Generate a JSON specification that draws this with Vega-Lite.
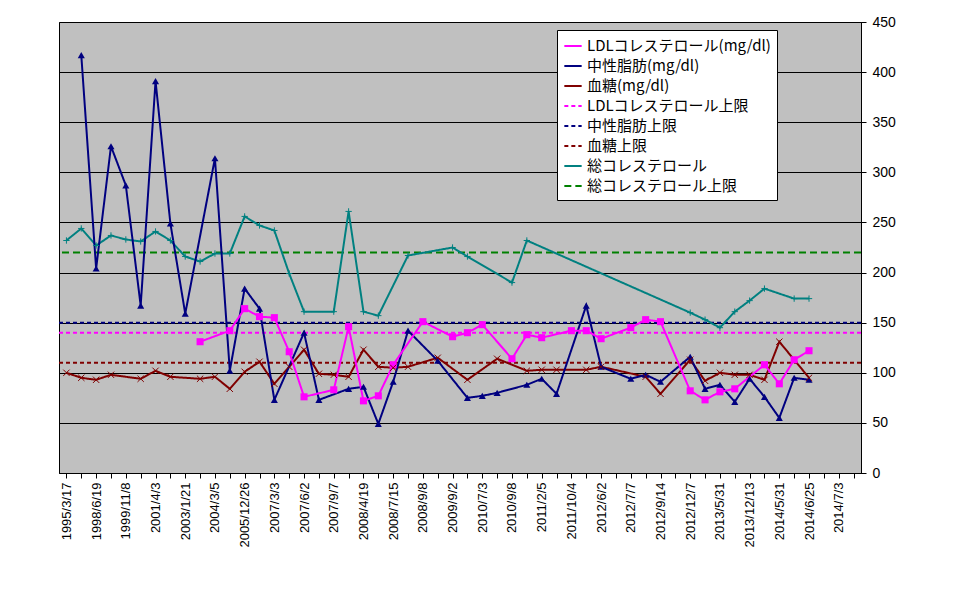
{
"$schema":"https://vega.github.io/schema/vega-lite/v6.json",
"width":802,"height":451,
"autosize":{"type":"none"},
"padding":{"left":59,"top":22,"right":101,"bottom":123},
"background":"white",
"config":{"view":{"fill":"#C0C0C0","stroke":"black","strokeWidth":1},"font":"Liberation Sans"},
"data":{"values":[
{"i":0,"血糖(mg/dl)":100,"総コレステロール":232},
{"i":1,"中性脂肪(mg/dl)":417,"血糖(mg/dl)":95,"総コレステロール":244},
{"i":2,"中性脂肪(mg/dl)":204,"血糖(mg/dl)":93,"総コレステロール":227},
{"i":3,"中性脂肪(mg/dl)":326,"血糖(mg/dl)":98,"総コレステロール":237},
{"i":4,"中性脂肪(mg/dl)":287,"総コレステロール":233},
{"i":5,"中性脂肪(mg/dl)":167,"血糖(mg/dl)":94,"総コレステロール":231},
{"i":6,"中性脂肪(mg/dl)":391,"血糖(mg/dl)":102,"総コレステロール":241},
{"i":7,"中性脂肪(mg/dl)":249,"血糖(mg/dl)":96,"総コレステロール":232},
{"i":8,"中性脂肪(mg/dl)":159,"総コレステロール":216},
{"i":9,"LDLコレステロール(mg/dl)":131,"血糖(mg/dl)":94,"総コレステロール":211},
{"i":10,"中性脂肪(mg/dl)":314,"血糖(mg/dl)":96,"総コレステロール":219},
{"i":11,"LDLコレステロール(mg/dl)":142,"中性脂肪(mg/dl)":102,"血糖(mg/dl)":84,"総コレステロール":219},
{"i":12,"LDLコレステロール(mg/dl)":164,"中性脂肪(mg/dl)":184,"血糖(mg/dl)":101,"総コレステロール":256},
{"i":13,"LDLコレステロール(mg/dl)":156,"中性脂肪(mg/dl)":164,"血糖(mg/dl)":111,"総コレステロール":247},
{"i":14,"LDLコレステロール(mg/dl)":155,"中性脂肪(mg/dl)":73,"血糖(mg/dl)":89,"総コレステロール":242},
{"i":15,"LDLコレステロール(mg/dl)":121,"血糖(mg/dl)":106,"総コレステロール":199},
{"i":16,"LDLコレステロール(mg/dl)":76,"中性脂肪(mg/dl)":140,"血糖(mg/dl)":123,"総コレステロール":161},
{"i":17,"中性脂肪(mg/dl)":73,"血糖(mg/dl)":99},
{"i":18,"LDLコレステロール(mg/dl)":83,"血糖(mg/dl)":98,"総コレステロール":161},
{"i":19,"LDLコレステロール(mg/dl)":146,"中性脂肪(mg/dl)":84,"血糖(mg/dl)":96,"総コレステロール":261},
{"i":20,"LDLコレステロール(mg/dl)":72,"中性脂肪(mg/dl)":86,"血糖(mg/dl)":123,"総コレステロール":161},
{"i":21,"LDLコレステロール(mg/dl)":77,"中性脂肪(mg/dl)":49,"血糖(mg/dl)":106,"総コレステロール":157},
{"i":22,"LDLコレステロール(mg/dl)":108,"中性脂肪(mg/dl)":91,"血糖(mg/dl)":105},
{"i":23,"中性脂肪(mg/dl)":142,"血糖(mg/dl)":106,"総コレステロール":217},
{"i":24,"LDLコレステロール(mg/dl)":151},
{"i":25,"中性脂肪(mg/dl)":112,"血糖(mg/dl)":115},
{"i":26,"LDLコレステロール(mg/dl)":136,"総コレステロール":225},
{"i":27,"LDLコレステロール(mg/dl)":140,"中性脂肪(mg/dl)":75,"血糖(mg/dl)":93,"総コレステロール":216},
{"i":28,"LDLコレステロール(mg/dl)":148,"中性脂肪(mg/dl)":77},
{"i":29,"中性脂肪(mg/dl)":80,"血糖(mg/dl)":114},
{"i":30,"LDLコレステロール(mg/dl)":114,"総コレステロール":190},
{"i":31,"LDLコレステロール(mg/dl)":138,"中性脂肪(mg/dl)":88,"血糖(mg/dl)":102,"総コレステロール":232},
{"i":32,"LDLコレステロール(mg/dl)":135,"中性脂肪(mg/dl)":94,"血糖(mg/dl)":103},
{"i":33,"中性脂肪(mg/dl)":79,"血糖(mg/dl)":103},
{"i":34,"LDLコレステロール(mg/dl)":142},
{"i":35,"LDLコレステロール(mg/dl)":142,"中性脂肪(mg/dl)":167,"血糖(mg/dl)":103},
{"i":36,"LDLコレステロール(mg/dl)":134,"中性脂肪(mg/dl)":106,"血糖(mg/dl)":106},
{"i":38,"LDLコレステロール(mg/dl)":145,"中性脂肪(mg/dl)":94},
{"i":39,"LDLコレステロール(mg/dl)":153,"中性脂肪(mg/dl)":98,"血糖(mg/dl)":96},
{"i":40,"LDLコレステロール(mg/dl)":151,"中性脂肪(mg/dl)":91,"血糖(mg/dl)":79},
{"i":42,"LDLコレステロール(mg/dl)":82,"中性脂肪(mg/dl)":116,"血糖(mg/dl)":113,"総コレステロール":160},
{"i":43,"LDLコレステロール(mg/dl)":73,"中性脂肪(mg/dl)":84,"血糖(mg/dl)":92,"総コレステロール":153},
{"i":44,"LDLコレステロール(mg/dl)":81,"中性脂肪(mg/dl)":88,"血糖(mg/dl)":100,"総コレステロール":145},
{"i":45,"LDLコレステロール(mg/dl)":84,"中性脂肪(mg/dl)":71,"血糖(mg/dl)":98,"総コレステロール":161},
{"i":46,"中性脂肪(mg/dl)":94,"血糖(mg/dl)":98,"総コレステロール":172},
{"i":47,"LDLコレステロール(mg/dl)":108,"中性脂肪(mg/dl)":76,"血糖(mg/dl)":93,"総コレステロール":184},
{"i":48,"LDLコレステロール(mg/dl)":89,"中性脂肪(mg/dl)":55,"血糖(mg/dl)":131},
{"i":49,"LDLコレステロール(mg/dl)":113,"中性脂肪(mg/dl)":95,"総コレステロール":174},
{"i":50,"LDLコレステロール(mg/dl)":122,"中性脂肪(mg/dl)":93,"血糖(mg/dl)":95,"総コレステロール":174}
]},
"transform":[
{"fold":["LDLコレステロール(mg/dl)","中性脂肪(mg/dl)","血糖(mg/dl)","総コレステロール"],"as":["s","v"]},
{"filter":"isValid(datum.v)"}
],
"encoding":{
"x":{"field":"i","type":"ordinal","scale":{"type":"point","padding":0.5,"domain":[0,1,2,3,4,5,6,7,8,9,10,11,12,13,14,15,16,17,18,19,20,21,22,23,24,25,26,27,28,29,30,31,32,33,34,35,36,37,38,39,40,41,42,43,44,45,46,47,48,49,50,51,52,53]},
"axis":{"title":null,"grid":false,"domainColor":"black","tickColor":"black","labelColor":"black","labelFontSize":13,"labelAngle":-90,"labelAlign":"right","labelBaseline":"middle","labelPadding":4,"labelOverlap":false,
"labelExpr":"datum.value % 2 == 0 ? ['1995/3/17','1998/6/19','1999/11/8','2001/4/3','2003/1/21','2004/3/5','2005/12/26','2007/3/3','2007/6/2','2007/9/7','2008/4/19','2008/7/15','2008/9/8','2009/9/2','2010/7/3','2010/9/8','2011/2/5','2011/10/4','2012/6/2','2012/7/7','2012/9/14','2012/12/7','2013/5/31','2013/12/13','2014/5/31','2014/6/25','2014/7/3'][datum.value/2] : ''"}},
"y":{"field":"v","type":"quantitative","scale":{"domain":[0,450]},
"axis":{"orient":"right","title":null,"values":[0,50,100,150,200,250,300,350,400,450],"gridColor":"black","gridOpacity":1,"domainColor":"black","tickColor":"black","labelColor":"black","labelFontSize":14,"labelPadding":6}},
"color":{"field":"s","type":"nominal","scale":{"domain":["LDLコレステロール(mg/dl)","中性脂肪(mg/dl)","血糖(mg/dl)","LDLコレステロール上限","中性脂肪上限","血糖上限","総コレステロール","総コレステロール上限"],"range":["#FF00FF","#000080","#800000","#FF00FF","#000080","#800000","#008080","#008000"]},
"legend":{"title":null,"orient":"none","legendX":498,"legendY":8,"symbolType":"stroke","symbolSize":300,"symbolStrokeWidth":2,"labelFontSize":15,"labelFont":"Noto Sans CJK JP","labelColor":"black","fillColor":"white","strokeColor":"black","padding":6,"rowPadding":2,"labelLimit":300}},
"strokeDash":{"field":"s","type":"nominal","scale":{"domain":["LDLコレステロール(mg/dl)","中性脂肪(mg/dl)","血糖(mg/dl)","LDLコレステロール上限","中性脂肪上限","血糖上限","総コレステロール","総コレステロール上限"],"range":[[1,0],[1,0],[1,0],[4,3],[4,3],[4,3],[1,0],[7,4]]},"legend":{"title":null,"orient":"none","legendX":498,"legendY":8}}
},
"layer":[
{"data":{"values":[{"s":"LDLコレステロール上限","v":140},{"s":"中性脂肪上限","v":150},{"s":"血糖上限","v":110},{"s":"総コレステロール上限","v":220}]},
"transform":[],
"mark":{"type":"rule","strokeWidth":2},
"encoding":{"x":null}},
{"mark":{"type":"line","strokeWidth":2}},
{"transform":[{"filter":"datum.s=='LDLコレステロール(mg/dl)' || datum.s=='中性脂肪(mg/dl)'"}],
"mark":{"type":"point","filled":true,"opacity":1,"size":50},
"encoding":{"strokeDash":null,"shape":{"field":"s","type":"nominal","legend":null,"scale":{"domain":["LDLコレステロール(mg/dl)","中性脂肪(mg/dl)"],"range":["square","triangle-up"]}}}},
{"transform":[{"filter":"datum.s=='血糖(mg/dl)' || datum.s=='総コレステロール'"}],
"mark":{"type":"point","filled":false,"opacity":1,"size":40,"strokeWidth":1},
"encoding":{"strokeDash":null,"shape":{"field":"s","type":"nominal","legend":null,"scale":{"domain":["血糖(mg/dl)","総コレステロール"],"range":["M-1,-1L1,1M-1,1L1,-1","M-1,0L1,0M0,-1L0,1"]}}}}
],
"resolve":{"scale":{"shape":"independent"}}
}
